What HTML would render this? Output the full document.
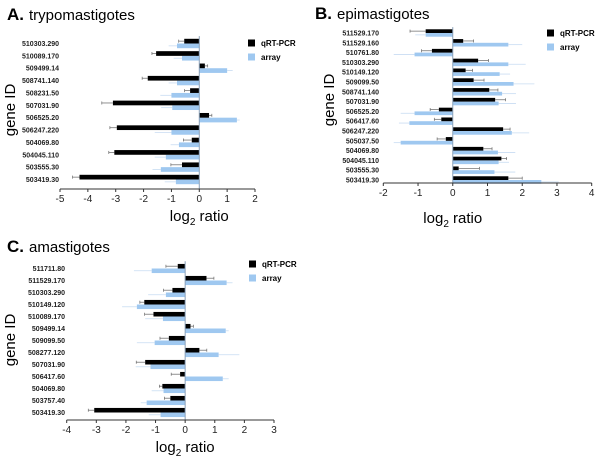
<!DOCTYPE html>
<html><head><meta charset="utf-8"><style>
body{margin:0;background:#fff;width:600px;height:461px;overflow:hidden}
svg{display:block;font-family:"Liberation Sans",Arial,sans-serif}
</style></head><body>
<svg id="chart" width="600" height="461" viewBox="0 0 600 461"></svg>
<script>
const genesA=["510303.290","510089.170","509499.14","508741.140","508231.50","507031.90","506525.20","506247.220","504069.80","504045.110","503555.30","503419.30"];
const qpcrA=[-0.54,-1.55,0.2,-1.85,-0.33,-3.1,0.35,-2.96,-0.27,-3.05,-0.62,-4.3];
const arrayA=[-0.8,-0.62,1.0,-0.8,-1.0,-0.97,1.35,-1.0,-0.73,-1.2,-1.38,-0.84];
const qErrA=[0.2,0.15,0.1,0.2,0.2,0.4,0.1,0.25,0.3,0.2,0.4,0.25];
const aErrA=[0.3,0.3,0.2,0.3,0.4,0.4,0.1,0.6,0.3,0.4,0.3,0.4];
const ticksA=[-5,-4,-3,-2,-1,0,1,2];

const genesB=["511529.170","511529.160","510761.80","510303.290","510149.120","509099.50","508741.140","507031.90","506525.20","506417.60","506247.220","505037.50","504069.80","504045.110","503555.30","503419.30"];
const qpcrB=[-0.78,0.3,-0.6,0.73,0.37,0.6,1.05,1.22,-0.4,-0.33,1.45,-0.2,0.88,1.4,0.17,1.6];
const arrayB=[-0.78,1.6,-1.1,1.6,1.35,1.75,1.42,1.32,-1.1,-1.25,1.7,-1.5,1.3,1.32,1.2,2.55];
const qErrB=[0.45,0.3,0.3,0.3,0.2,0.3,0.25,0.3,0.25,0.2,0.2,0.25,0.25,0.15,0.6,0.4];
const aErrB=[0.3,0.4,0.6,0.5,0.3,0.6,0.4,0.5,0.4,0.3,0.5,0.2,0.5,0.3,0.6,0.5];
const ticksB=[-2,-1,0,1,2,3,4];

const genesC=["511711.80","511529.170","510303.290","510149.120","510089.170","509499.14","509099.50","508277.120","507031.90","506417.60","504069.80","503757.40","503419.30"];
const qpcrC=[-0.25,0.72,-0.43,-1.38,-1.07,0.18,-0.55,0.48,-1.35,-0.17,-0.77,-0.5,-3.07];
const arrayC=[-1.13,1.4,-0.65,-1.63,-0.75,1.37,-1.03,1.13,-1.17,1.27,-0.73,-1.3,-0.83];
const qErrC=[0.4,0.25,0.3,0.15,0.3,0.1,0.3,0.25,0.3,0.3,0.1,0.2,0.2];
const aErrC=[0.6,0.2,0.6,0.5,0.6,0.1,0.6,0.7,0.5,0.2,0.4,0.2,0.4];
const ticksC=[-4,-3,-2,-1,0,1,2,3];

const NS="http://www.w3.org/2000/svg";
const svg=document.getElementById('chart');
function mk(tag,attrs,parent,text){const e=document.createElementNS(NS,tag);for(const k in attrs)e.setAttribute(k,attrs[k]);if(text!==undefined)e.textContent=text;(parent||svg).appendChild(e);return e;}

function panel(o){
  const g=mk('g',{});
  
  
  const x=v=>o.x0+(v-o.t0)*(o.x1-o.x0)/(o.t1-o.t0);
  const sp=(o.yLast-o.yFirst)/(o.genes.length-1);
  const y=i=>o.yFirst+i*sp;
  const bh=sp*0.38;
  const t=mk('text',{x:o.tx,y:o.ty,'font-size':17,'font-weight':'bold'},g,o.letter);
  
  const tt=mk('text',{x:o.tx+22,y:o.ty,'font-size':15},g,o.title);
  
  o.genes.forEach((gn,i)=>{
    const c=y(i);
    const lb=mk('text',{x:o.lx,y:c+2.5,'font-size':7,'font-weight':'bold','text-anchor':'end',fill:'#222'},g,gn);
    
    // array error
    const av=o.arr[i],ae=o.aerr[i];
    mk('line',{x1:x(av),x2:x(av+Math.sign(av||1)*ae),y1:c+bh/2,y2:c+bh/2,stroke:'#c8dcf2','stroke-width':0.8},g);
    const ab=mk('rect',{x:Math.min(x(0),x(av)),y:c,width:Math.abs(x(av)-x(0)),height:bh,fill:'#9fc8f0'},g);
    
    const qv=o.q[i],qe=o.qerr[i];
    mk('line',{x1:x(qv),x2:x(qv+Math.sign(qv||1)*qe),y1:c-bh/2,y2:c-bh/2,stroke:'#777','stroke-width':0.8},g);
    mk('line',{x1:x(qv+Math.sign(qv||1)*qe),x2:x(qv+Math.sign(qv||1)*qe),y1:c-bh/2-1.5,y2:c-bh/2+1.5,stroke:'#777','stroke-width':0.8},g);
    const qb=mk('rect',{x:Math.min(x(0),x(qv)),y:c-bh,width:Math.abs(x(qv)-x(0)),height:bh,fill:'#000'},g);
    
  });
  mk('line',{x1:x(0),x2:x(0),y1:o.yFirst-sp*0.6,y2:o.ay,stroke:'#8aa0b8','stroke-width':1},g);
  const ax=mk('line',{x1:o.x0,x2:o.x1,y1:o.ay,y2:o.ay,stroke:'#333','stroke-width':1},g);
  
  o.ticks.forEach(v=>{
    mk('line',{x1:x(v),x2:x(v),y1:o.ay,y2:o.ay+3,stroke:'#333','stroke-width':1},g);
    const tl=mk('text',{x:x(v),y:o.ay+13,'font-size':10,'text-anchor':'middle',fill:'#222'},g,String(v));
    
  });
  const xt=mk('text',{x:x(0),y:o.xty,'font-size':15,'text-anchor':'middle'},g);
  
  mk('tspan',{},xt,'log');mk('tspan',{'font-size':10,dy:4},xt,'2');mk('tspan',{dy:-4},xt,' ratio');
  const yt=mk('text',{x:0,y:0,'font-size':15,'text-anchor':'middle',transform:`translate(${o.gx},${o.gy}) rotate(-90)`},g,'gene ID');
  
  const l1=mk('g',{},g);
  mk('rect',{x:o.lgx,y:o.lgy-3.5,width:7,height:7,fill:'#000'},l1);
  mk('text',{x:o.lgx+13,y:o.lgy+3,'font-size':8,'font-weight':'bold'},l1,'qRT-PCR');
  const l2=mk('g',{},g);
  mk('rect',{x:o.lgx,y:o.lgy+10.5,width:7,height:7,fill:'#9fc8f0'},l2);
  mk('text',{x:o.lgx+13,y:o.lgy+17,'font-size':8,'font-weight':'bold'},l2,'array');
}

panel({name:'panel-a-trypomastigotes',letter:'A.',title:'trypomastigotes',tx:7,ty:20,genes:genesA,q:qpcrA,arr:arrayA,qerr:qErrA,aerr:aErrA,ticks:ticksA,t0:-5,t1:2,x0:60,x1:255,yFirst:43.5,yLast:179.5,ay:189,lx:59,xty:221,gx:15,gy:110,lgx:248,lgy:43});
panel({name:'panel-b-epimastigotes',letter:'B.',title:'epimastigotes',tx:315,ty:19,genes:genesB,q:qpcrB,arr:arrayB,qerr:qErrB,aerr:aErrB,ticks:ticksB,t0:-2,t1:4,x0:383.3,x1:591.7,yFirst:33,yLast:180,ay:183,lx:379,xty:223,gx:334,gy:100,lgx:547,lgy:33});
panel({name:'panel-c-amastigotes',letter:'C.',title:'amastigotes',tx:7,ty:252,genes:genesC,q:qpcrC,arr:arrayC,qerr:qErrC,aerr:aErrC,ticks:ticksC,t0:-4,t1:3,x0:66.7,x1:274,yFirst:268.5,yLast:412.5,ay:420,lx:65,xty:452,gx:15,gy:340,lgx:249,lgy:264});
</script>
</body></html>
